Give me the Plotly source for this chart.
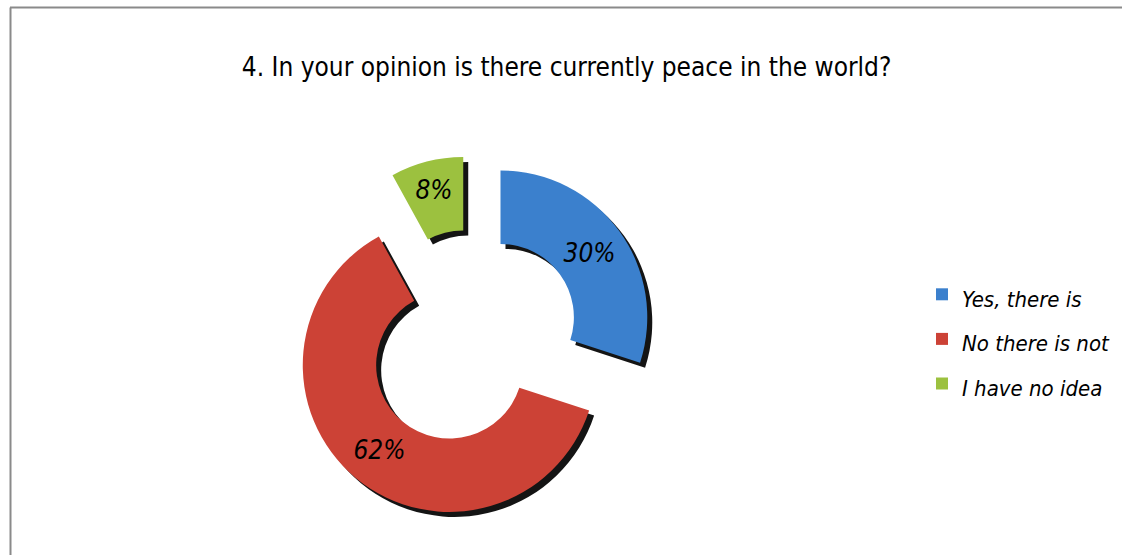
import plotly.graph_objects as go

# Survey answers and their shares (%)
answers = ["Yes, there is", "No there is not", "I have no idea"]
shares = [30, 62, 8]
slice_colors = ["#3b80cd", "#cc4236", "#9cc13f"]

TITLE = "4. In your opinion is there currently peace in the world?"
NARROW = "Liberation Sans Narrow, DejaVu Sans Condensed, Arial Narrow, sans-serif"

W, H = 1122, 555
cx, cy, R = 472, 338, 182          # donut centre / outer extent in pixels
sx, sy = 5, 5                        # drop-shadow offset in pixels


def dom(dx=0, dy=0):
    return dict(
        x=[(cx - R + dx) / W, (cx + R + dx) / W],
        y=[(H - cy - R - dy) / H, (H - cy + R - dy) / H],
    )


pull = [0.24] * len(shares)
# legend rows sit further apart than the label text height
legend_labels = [f"<span style='font-size:22px'>{a}</span>" for a in answers]

fig = go.Figure()

# black shadow underneath the exploded ring
fig.add_trace(go.Pie(
    labels=legend_labels, values=shares, hole=0.5, pull=pull, sort=False,
    direction="clockwise", rotation=0, domain=dom(sx, sy),
    marker=dict(colors=["rgba(0,0,0,0.92)"] * 3, line=dict(width=0)),
    textinfo="none", hoverinfo="skip", showlegend=False,
))

# the exploded donut itself
fig.add_trace(go.Pie(
    labels=legend_labels, values=shares, hole=0.5, pull=pull, sort=False,
    direction="clockwise", rotation=0, domain=dom(),
    marker=dict(colors=slice_colors, line=dict(width=0)),
    texttemplate="%{percent:.0%}", textposition="inside",
    insidetextorientation="horizontal",
    textfont=dict(family=NARROW, size=26, color="black", style="italic"),
    showlegend=True,
))

fig.update_layout(
    width=W, height=H,
    margin=dict(l=0, r=0, t=0, b=0),
    paper_bgcolor="white", plot_bgcolor="white",
    title=dict(text=TITLE, x=0.505, xanchor="center", y=1 - 67 / H, yanchor="middle",
               font=dict(family=NARROW, size=26, color="black", weight=500)),
    legend=dict(
        x=922 / W, xanchor="left", y=1 - 339 / H, yanchor="middle",
        font=dict(family=NARROW, size=32, color="black", style="italic"),
        bgcolor="rgba(0,0,0,0)",
    ),
    shapes=[
        dict(type="line", xref="paper", yref="paper", x0=10 / W, x1=1, y0=1 - 7.5 / H, y1=1 - 7.5 / H,
             line=dict(color="#8a8a8a", width=2)),
        dict(type="line", xref="paper", yref="paper", x0=10.5 / W, x1=10.5 / W, y0=0, y1=1 - 7.5 / H,
             line=dict(color="#8a8a8a", width=2)),
    ],
)

fig.write_html("out.html")
